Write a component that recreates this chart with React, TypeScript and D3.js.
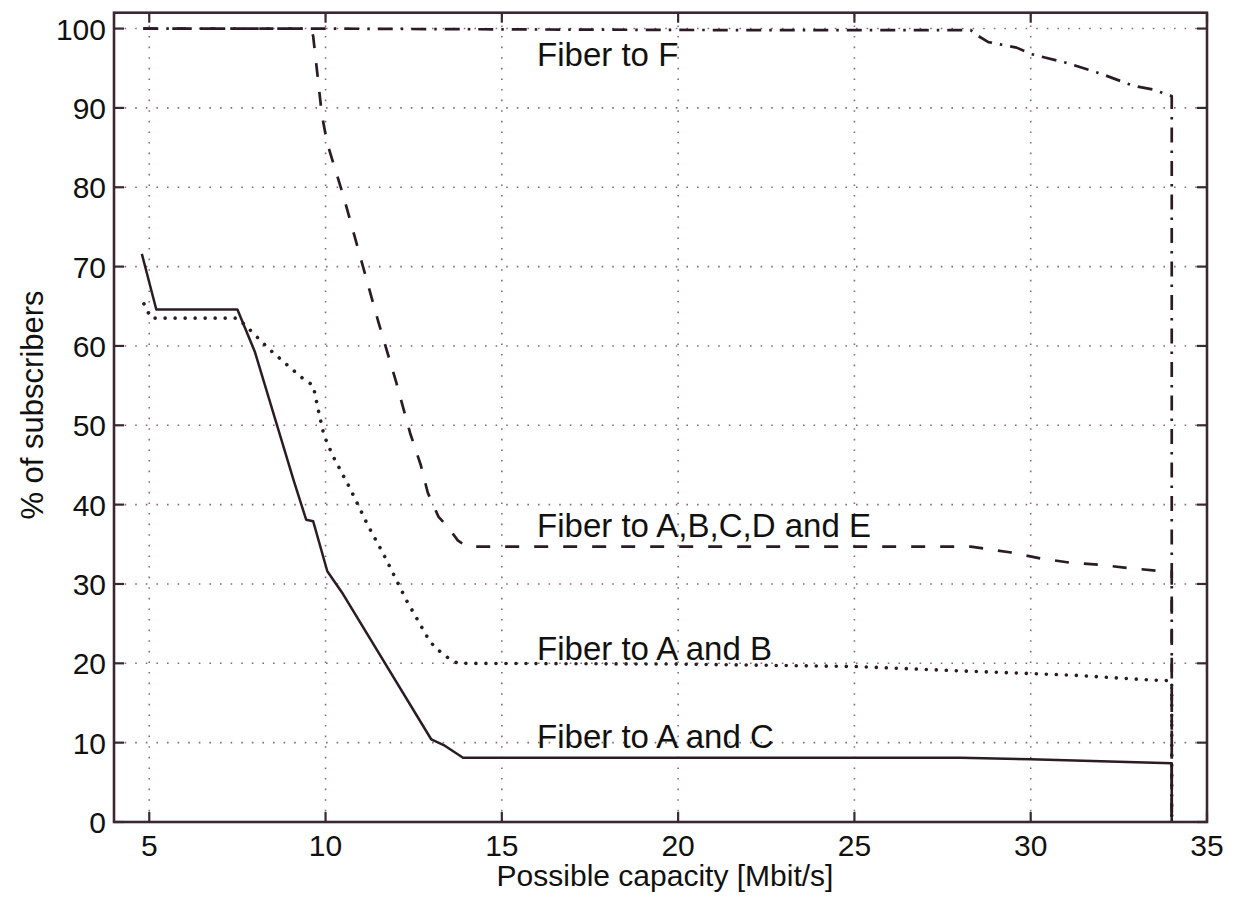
import React from 'react';
import * as d3 from 'd3';

const xTicks = [5, 10, 15, 20, 25, 30, 35];
const yTicks = [0, 10, 20, 30, 40, 50, 60, 70, 80, 90, 100];

const fiberToF: [number, number][] = [
  [4.83, 100], [9.6, 100], [15, 99.9], [22, 99.8], [28.3, 99.8], [28.5, 99.1], [28.8, 98.3],
  [29.6, 97.6], [30, 96.8], [31, 95.7], [32, 94.3], [32.9, 92.8], [33.5, 92.3], [33.85, 91.7],
  [34, 91.5], [34, 0],
];

const fiberToABCDE: [number, number][] = [
  [4.83, 100], [9.6, 100], [9.65, 99], [9.75, 95], [9.9, 89], [10.05, 85.5], [10.5, 79],
  [11.0, 71], [11.5, 63], [12.0, 55.5], [12.4, 49], [12.7, 45], [12.9, 41.5], [13.2, 38.5],
  [13.5, 37], [13.75, 35.5], [14.0, 34.7], [28.3, 34.7], [29.4, 34.0], [30.3, 33.2],
  [31.1, 32.7], [32.0, 32.4], [32.8, 32.0], [34.0, 31.5], [34.0, 0],
];

const fiberToAB: [number, number][] = [
  [4.85, 65.3], [5.05, 63.5], [7.5, 63.5], [7.75, 62.5], [8.4, 59.6], [9.3, 56.1], [9.65, 55.0],
  [9.8, 51.8], [9.95, 48.8], [10.2, 46.2], [10.7, 42.0], [11.2, 37.4], [11.65, 33.7],
  [12.3, 27.9], [12.9, 23.2], [13.1, 22.0], [13.5, 20.6], [13.75, 20.0], [20, 19.9],
  [25, 19.6], [27.7, 19.1], [31.2, 18.5], [33.4, 17.9], [34, 17.8], [34, 0],
];

const fiberToAC: [number, number][] = [
  [4.79, 71.6], [5.2, 64.6], [7.5, 64.6], [8.0, 59.2], [9.1, 43.0], [9.45, 38.1], [9.65, 37.9],
  [10.05, 31.6], [10.5, 28.7], [13.0, 10.4], [13.35, 9.7], [13.9, 8.1], [28, 8.1], [30, 7.9],
  [34, 7.4], [34, 0],
];

const labels: { text: string; x: number; y: number }[] = [
  { text: 'Fiber to F', x: 16.0, y: 95.3 },
  { text: 'Fiber to A,B,C,D and E', x: 16.0, y: 35.9 },
  { text: 'Fiber to A and B', x: 16.0, y: 20.4 },
  { text: 'Fiber to A and C', x: 16.0, y: 9.3 },
];

const W = 1242;
const H = 905;
const L = 114;
const R = 1207;
const T = 12.7;
const B = 822;
const INK = '#2b1c24';
const AXIS = '#3a2830';
const GRID = '#8a6878';
const FONT = '"Liberation Sans", Arial, sans-serif';

export default function App() {
  const x = d3.scaleLinear().domain([4, 35]).range([L, R]);
  const y = d3.scaleLinear().domain([0, 102]).range([B, T]);
  const line = d3
    .line<[number, number]>()
    .x((d) => x(d[0]))
    .y((d) => y(d[1]));

  const tickLen = 10;

  return (
    <svg
      width={W}
      height={H}
      viewBox={`0 0 ${W} ${H}`}
      style={{ position: 'absolute', left: 0, top: 0, background: '#fff' }}
    >
      <rect x={0} y={0} width={W} height={H} fill="#fff" />
      {/* grid */}
      <g stroke={GRID} strokeWidth={1.6} strokeDasharray="1.6,9" fill="none">
        {xTicks
          .filter((t) => t < 35)
          .map((t) => (
            <line key={'gx' + t} x1={x(t)} x2={x(t)} y1={B} y2={T} />
          ))}
        {yTicks
          .filter((t) => t > 0)
          .map((t) => (
            <line key={'gy' + t} x1={L} x2={R} y1={y(t)} y2={y(t)} />
          ))}
      </g>

      {/* series */}
      <g fill="none" stroke={INK} strokeLinejoin="round">
        <path d={line(fiberToF) || ''} strokeWidth={2.7} strokeDasharray="15,8,2.5,8" />
        <path d={line(fiberToABCDE) || ''} strokeWidth={2.7} strokeDasharray="14,15" />
        <path
          d={line(fiberToAB) || ''}
          strokeWidth={3.6}
          strokeDasharray="0.01,10"
          strokeLinecap="round"
        />
        <path d={line(fiberToAC) || ''} strokeWidth={2.5} />
      </g>

      {/* axes box */}
      <rect x={L} y={T} width={R - L} height={B - T} fill="none" stroke={AXIS} strokeWidth={2.6} />

      {/* ticks */}
      <g stroke={AXIS} strokeWidth={2.2}>
        {xTicks.map((t) => (
          <g key={'tx' + t}>
            <line x1={x(t)} x2={x(t)} y1={B} y2={B - tickLen} />
            <line x1={x(t)} x2={x(t)} y1={T} y2={T + tickLen} />
          </g>
        ))}
        {yTicks.map((t) => (
          <g key={'ty' + t}>
            <line x1={L} x2={L + tickLen} y1={y(t)} y2={y(t)} />
            <line x1={R} x2={R - tickLen} y1={y(t)} y2={y(t)} />
          </g>
        ))}
      </g>

      {/* tick labels */}
      <g fontFamily={FONT} fontSize={30} fill="#111">
        {xTicks.map((t) => (
          <text key={'lx' + t} x={x(t)} y={B + 34} textAnchor="middle">
            {t}
          </text>
        ))}
        {yTicks.map((t) => (
          <text key={'ly' + t} x={L - 8} y={y(t) + 11} textAnchor="end">
            {t}
          </text>
        ))}
      </g>

      {/* axis titles */}
      <text
        x={665}
        y={886}
        textAnchor="middle"
        fontFamily={FONT}
        fontSize={30}
        fill="#111"
      >
        Possible capacity [Mbit/s]
      </text>
      <text
        transform={`translate(43, 405) rotate(-90)`}
        textAnchor="middle"
        fontFamily={FONT}
        fontSize={31}
        fill="#111"
      >
        % of subscribers
      </text>

      {/* annotations */}
      <g fontFamily={FONT} fontSize={33} fill="#111">
        {labels.map((l) => (
          <text key={l.text} x={x(l.x)} y={y(l.y)}>
            {l.text}
          </text>
        ))}
      </g>
    </svg>
  );
}
